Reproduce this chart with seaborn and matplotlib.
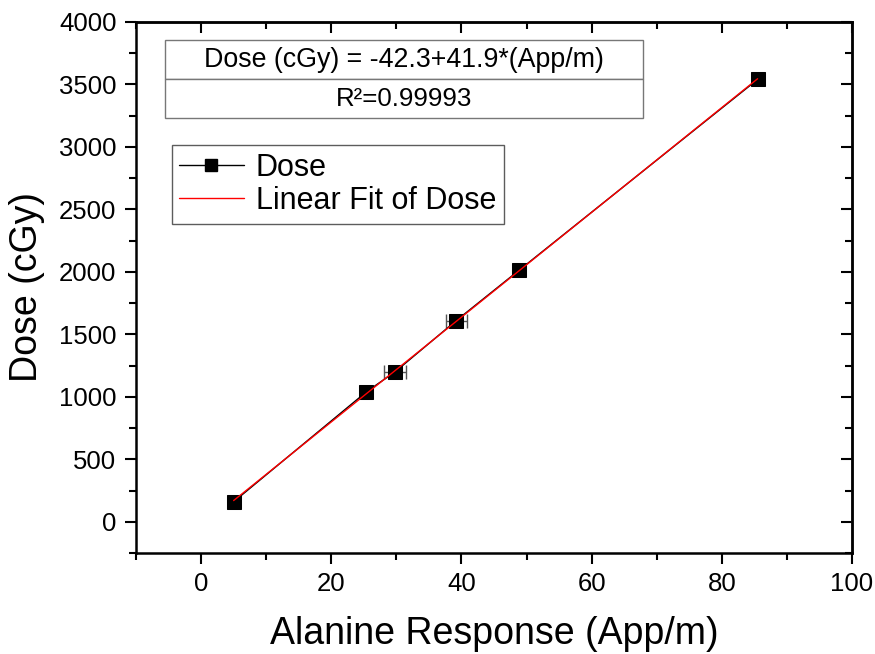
import matplotlib
matplotlib.use("Agg")
import matplotlib.pyplot as plt
import seaborn as sns
import numpy as np
import pandas as pd
from matplotlib.ticker import MultipleLocator
from matplotlib.lines import Line2D

response = [5.0, 25.4, 29.8, 39.2, 48.9, 85.5]
dose = [160, 1040, 1200, 1610, 2015, 3540]
response_err = [0.4, 0.5, 1.7, 1.6, 0.5, 0.5]

eq_text = "Dose (cGy) = -42.3+41.9*(App/m)"
r2_text = "R²=0.99993"

sns.set_theme(style="white")
plt.rcParams['font.family'] = ['Liberation Sans', 'DejaVu Sans']
for k in ['text.color', 'axes.labelcolor', 'xtick.color', 'ytick.color']:
    plt.rcParams[k] = 'black'

df = pd.DataFrame({"x": response, "y": dose})

fig = plt.figure(figsize=(8.75, 6.54), dpi=100)
ax = fig.add_axes([0.1554, 0.1544, 0.8183, 0.8120])

ax.errorbar(response, dose, xerr=response_err, fmt='none', ecolor='#555555',
            elinewidth=1, capsize=5, capthick=1, zorder=2)
sns.lineplot(data=df, x="x", y="y", ax=ax, color='black', lw=1,
             marker='s', markersize=10, markeredgecolor='black',
             zorder=3, sort=False, legend=False)
sns.regplot(data=df, x="x", y="y", ax=ax, scatter=False, ci=None,
            color='red', line_kws={'lw': 1, 'zorder': 5})

ax.set_xlim(-10, 100)
ax.set_ylim(-250, 4000)
ax.xaxis.set_major_locator(MultipleLocator(20))
ax.xaxis.set_minor_locator(MultipleLocator(10))
ax.yaxis.set_major_locator(MultipleLocator(500))
ax.yaxis.set_minor_locator(MultipleLocator(250))

ax.tick_params(which='both', direction='out', width=1.5, labelsize=18.5,
               colors='black', bottom=True, left=True, top=False, right=False)
ax.tick_params(which='major', length=8, pad=6)
ax.tick_params(which='minor', length=5)
for s in ax.spines.values():
    s.set_linewidth(1.8)
    s.set_color('black')

# inward ticks on top and right
secx = ax.secondary_xaxis('top')
secx.xaxis.set_major_locator(MultipleLocator(20))
secx.xaxis.set_minor_locator(MultipleLocator(10))
secx.tick_params(which='both', direction='in', width=1.5, labeltop=False, top=True, colors='black')
secx.tick_params(which='major', length=8)
secx.tick_params(which='minor', length=5)
secx.spines['top'].set_linewidth(1.8)
secy = ax.secondary_yaxis('right')
secy.yaxis.set_major_locator(MultipleLocator(500))
secy.yaxis.set_minor_locator(MultipleLocator(250))
secy.tick_params(which='both', direction='in', width=1.5, labelright=False, right=True, colors='black')
secy.tick_params(which='major', length=8)
secy.tick_params(which='minor', length=5)
secy.spines['right'].set_linewidth(1.8)

ax.set_xlabel("Alanine Response (App/m)", fontsize=27, labelpad=14)
ax.set_ylabel("Dose (cGy)", fontsize=27, labelpad=10)

# equation table
tbl = ax.table(cellText=[[eq_text], [r2_text]], cellLoc='center',
               bbox=[0.0405, 0.819, 0.668, 0.147], zorder=6)
tbl.auto_set_font_size(False)
for (r, c), cell in tbl.get_celld().items():
    cell.set_edgecolor('#777777')
    cell.set_linewidth(1)
    cell.get_text().set_fontsize(19.3 if r == 0 else 18.6)
    cell.get_text().set_color('black')
    cell.set_facecolor('white')

handles = [Line2D([], [], color='black', lw=1, marker='s', markersize=9),
           Line2D([], [], color='red', lw=1)]
leg = ax.legend(handles, ['Dose', 'Linear Fit of Dose'], loc='upper left',
                bbox_to_anchor=(0.05, 0.768), borderaxespad=0, fontsize=22,
                frameon=True, fancybox=False, edgecolor='#333333',
                handlelength=2.1, borderpad=0.25, labelspacing=0.1, handletextpad=0.4)
leg.get_frame().set_linewidth(1)

fig.savefig("out.png", dpi=100, facecolor='white')
